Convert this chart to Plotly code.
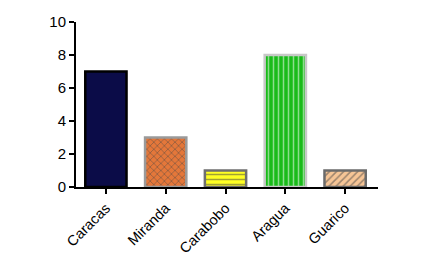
import plotly.graph_objects as go

categories = ["Caracas", "Miranda", "Carabobo", "Aragua", "Guarico"]
values = [7, 3, 1, 8, 1]
fill_colors = ["#0b0c48", "#e4773a", "#ffff22", "#19bb19", "#f6c596"]
fg_colors = ["#0b0c48", "#f3a66f", "#a8a830", "#ffffff", "#d2874a"]
line_colors = ["#000000", "#9a9a9a", "#6f6f6f", "#c8c8c8", "#6b6b6b"]
shapes = ["", "x", "-", "|", "/"]
y_ticks = [0, 2, 4, 6, 8, 10]

fig = go.Figure(go.Bar(
    x=categories,
    y=values,
    width=0.69,
    marker=dict(
        color=fill_colors,
        line=dict(color=line_colors, width=2.5),
        pattern=dict(shape=shapes, fgcolor=fg_colors,
                     size=5, solidity=0.3, fillmode="overlay"),
    ),
))

fig.update_layout(
    width=440, height=270,
    margin=dict(l=68, r=70, t=14, b=91),
    plot_bgcolor="white", paper_bgcolor="white",
    showlegend=False,
    font=dict(family="Liberation Sans, Arial, sans-serif", color="black"),
)
fig.update_yaxes(
    range=[0, 10], tickvals=y_ticks, showgrid=False, zeroline=False,
    showline=True, linecolor="black", linewidth=2,
    ticks="outside", ticklen=5, tickwidth=2, tickcolor="black",
    tickfont=dict(size=15), automargin=False,
)
fig.update_xaxes(
    range=[-0.5, 4.55], showgrid=False, showline=True, linecolor="black", linewidth=2,
    ticks="outside", ticklen=5, tickwidth=2, tickcolor="black",
    tickangle=-45, tickfont=dict(size=14.5), automargin=False,
)

fig.write_html("out.html")
